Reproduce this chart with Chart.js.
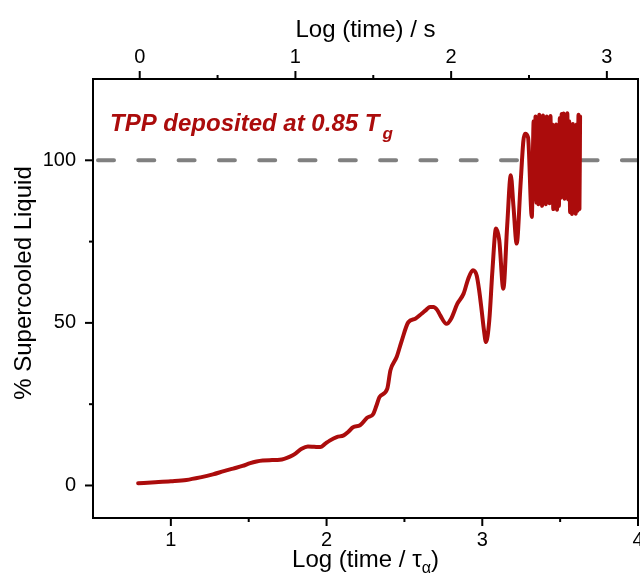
<!DOCTYPE html>
<html>
<head>
<meta charset="utf-8">
<script src="https://cdn.jsdelivr.net/npm/chart.js@4.4.0/dist/chart.umd.min.js"></script>
<style>
  html, body { margin: 0; padding: 0; background: #fff; }
  canvas { display: block; }
</style>
</head>
<body>
<canvas id="chart" width="640" height="588"></canvas>
<script>
// Log (time / tau_alpha) for each point of the trace
const logTimeTau = [
    0.79, 0.90, 1.00, 1.10, 1.19, 1.27, 1.34, 1.40, 1.46, 1.51,
    1.55, 1.59, 1.65, 1.70, 1.765, 1.80, 1.84, 1.88, 1.92, 1.96,
    1.99, 2.02, 2.065, 2.11, 2.14, 2.17, 2.215, 2.26, 2.30, 2.32,
    2.34, 2.39, 2.41, 2.45, 2.48, 2.525, 2.57, 2.61, 2.64, 2.664,
    2.686, 2.71, 2.73, 2.77, 2.80, 2.84, 2.88, 2.91, 2.94, 2.964,
    2.98, 2.996, 3.01, 3.024, 3.045, 3.065, 3.088, 3.109, 3.135, 3.16,
    3.183, 3.20, 3.221, 3.245, 3.264, 3.275, 3.294, 3.318,
    // noisy end of the trace
    3.330, 3.336, 3.342, 3.348, 3.354, 3.360, 3.366, 3.372, 3.378, 3.384,
    3.390, 3.396, 3.402, 3.408, 3.414, 3.420, 3.426, 3.432, 3.438, 3.444,
    3.450, 3.456, 3.462, 3.468, 3.474, 3.480, 3.486, 3.492, 3.498, 3.504,
    3.510, 3.516, 3.522, 3.528, 3.534, 3.540, 3.546, 3.552, 3.558, 3.564,
    3.570, 3.576, 3.582, 3.588, 3.594, 3.600, 3.606, 3.612, 3.618, 3.624,
    3.628
];
// % supercooled liquid
const supercooled = [
    0.7, 1.0, 1.3, 1.7, 2.5, 3.4, 4.4, 5.2, 6.0, 6.9,
    7.4, 7.7, 7.8, 7.9, 8.9, 9.8, 11.3, 12.0, 11.9, 11.8,
    12.8, 13.8, 14.9, 15.4, 16.5, 17.9, 18.5, 20.8, 22.0, 24.5,
    27.2, 29.8, 35.4, 39.5, 44.1, 50.2, 51.3, 52.8, 54.0, 54.9,
    54.9, 54.0, 52.3, 49.7, 51.3, 55.9, 59.0, 63.6, 66.2, 64.6,
    60.0, 53.8, 48.0, 44.1, 50.8, 66.0, 79.0, 75.4, 60.5, 80.0,
    95.4, 86.0, 74.4, 92.0, 106.0, 108.2, 107.0, 82.6,
    112, 88, 113.5, 87, 113, 86.5, 114, 87.5, 113, 86,
    113.8, 87, 112.5, 86.5, 113.5, 88, 113, 86.8, 113.6, 87.5,
    111, 85, 110.5, 85.5, 111, 84.8, 110.8, 86, 113, 88.5,
    114.2, 89, 114.4, 88.2, 114, 89, 114.5, 88, 112, 84,
    111, 83.5, 111.2, 84, 110.5, 83.6, 111, 84.5, 114, 85,
    113.5
];

// 100 % reference line
const refLineX = [0.5, 4];
const refLineY = [100, 100];

const bottomTicks = [1, 2, 3, 4];
const bottomMinor = [1.5, 2.5, 3.5];
const topTicks = [0, 1, 2, 3];
const topMinor = [0.5, 1.5, 2.5];
const yTicks = [0, 50, 100];
const yMinor = [25, 75];

// Log(time / s) = Log(time / tau) - tauOffset
const tauOffset = 0.8;

const FONT = '"Liberation Sans", Arial, sans-serif';
const RED = '#ab0c0c';

function setTicks(values) {
    return scale => { scale.ticks = values.map(v => ({ value: v })); };
}

// frame, tick marks, axis titles and the label
const decorPlugin = {
    id: 'decor',
    afterDraw(chart) {
        const { ctx, chartArea: a, scales } = chart;
        ctx.save();
        ctx.strokeStyle = '#000';
        ctx.lineWidth = 2;
        ctx.strokeRect(a.left, a.top, a.right - a.left, a.bottom - a.top);

        const tick = (vals, scale, len, side) => {
            vals.forEach(v => {
                const p = scale.getPixelForValue(v);
                ctx.beginPath();
                if (side === 'bottom') { ctx.moveTo(p, a.bottom); ctx.lineTo(p, a.bottom + len); }
                if (side === 'top') { ctx.moveTo(p, a.top); ctx.lineTo(p, a.top - len); }
                if (side === 'left') { ctx.moveTo(a.left, p); ctx.lineTo(a.left - len, p); }
                ctx.stroke();
            });
        };
        tick(bottomTicks, scales.x, 8, 'bottom');
        tick(bottomMinor, scales.x, 4, 'bottom');
        tick(topTicks, scales.x2, 8, 'top');
        tick(topMinor, scales.x2, 4, 'top');
        tick(yTicks, scales.y, 8, 'left');
        tick(yMinor, scales.y, 4, 'left');

        const cx = (a.left + a.right) / 2;
        ctx.fillStyle = '#000';
        ctx.textBaseline = 'alphabetic';

        // top title
        ctx.font = '24px ' + FONT;
        ctx.textAlign = 'center';
        ctx.fillText('Log (time) / s', cx, 37);

        // bottom title with subscript alpha
        ctx.textAlign = 'left';
        const p1 = 'Log (time / \u03C4', p2 = '\u03B1', p3 = ')';
        ctx.font = '24px ' + FONT;
        const w1 = ctx.measureText(p1).width, w3 = ctx.measureText(p3).width;
        ctx.font = '16px ' + FONT;
        const w2 = ctx.measureText(p2).width;
        let x0 = cx - (w1 + w2 + w3) / 2;
        ctx.font = '24px ' + FONT;
        ctx.fillText(p1, x0, 567);
        ctx.font = '16px ' + FONT;
        ctx.fillText(p2, x0 + w1, 573);
        ctx.font = '24px ' + FONT;
        ctx.fillText(p3, x0 + w1 + w2, 567);

        // y title
        ctx.save();
        ctx.translate(31, 283);
        ctx.rotate(-Math.PI / 2);
        ctx.textAlign = 'center';
        ctx.font = '24px ' + FONT;
        ctx.fillText('% Supercooled Liquid', 0, 0);
        ctx.restore();

        // label
        ctx.fillStyle = RED;
        ctx.textAlign = 'left';
        ctx.font = 'italic bold 24px ' + FONT;
        const label = 'TPP deposited at 0.85 T';
        ctx.fillText(label, 110, 131);
        const lw = ctx.measureText(label).width;
        ctx.font = 'italic bold 17px ' + FONT;
        ctx.fillText('g', 110 + lw + 3, 139);
        ctx.restore();
    }
};

const tickFont = { family: FONT, size: 20 };
const hiddenGrid = { display: true, drawOnChartArea: false, drawTicks: true, tickLength: 8, tickColor: 'rgba(0,0,0,0)' };

new Chart(document.getElementById('chart'), {
    type: 'scatter',
    data: {
        datasets: [
            {
                data: logTimeTau.map((x, i) => ({ x, y: supercooled[i] })),
                showLine: true,
                borderColor: RED,
                borderWidth: 4,
                pointRadius: 0,
                cubicInterpolationMode: 'monotone',
                borderJoinStyle: 'round',
                borderCapStyle: 'round'
            },
            {
                data: refLineX.map((x, i) => ({ x, y: refLineY[i] })),
                showLine: true,
                borderColor: '#808080',
                borderWidth: 4,
                borderDash: [16, 24.3],
                borderDashOffset: -5,
                borderCapStyle: 'round',
                pointRadius: 0
            }
        ]
    },
    options: {
        responsive: false,
        animation: false,
        events: [],
        layout: { padding: { left: 0, right: 2, top: 0, bottom: 0 } },
        plugins: { legend: { display: false }, tooltip: { enabled: false } },
        scales: {
            x: {
                type: 'linear',
                position: 'bottom',
                min: 0.5,
                max: 4,
                grid: hiddenGrid,
                border: { display: false },
                afterBuildTicks: setTicks(bottomTicks),
                ticks: { font: tickFont, color: '#000', padding: 2, maxRotation: 0 },
                afterFit(scale) { scale.height = 70; scale.paddingLeft = 0; scale.paddingRight = 0; }
            },
            x2: {
                type: 'linear',
                position: 'top',
                min: 0.5 - tauOffset,
                max: 4 - tauOffset,
                grid: hiddenGrid,
                border: { display: false },
                afterBuildTicks: setTicks(topTicks),
                ticks: { font: tickFont, color: '#000', padding: 2, maxRotation: 0 },
                afterFit(scale) { scale.height = 79; scale.paddingLeft = 0; scale.paddingRight = 0; }
            },
            y: {
                type: 'linear',
                min: -10,
                max: 125,
                grid: hiddenGrid,
                border: { display: false },
                afterBuildTicks: setTicks(yTicks),
                ticks: { font: tickFont, color: '#000', padding: 9 },
                afterFit(scale) { scale.width = 93; scale.paddingTop = 0; scale.paddingBottom = 0; }
            }
        }
    },
    plugins: [decorPlugin]
});
</script>
</body>
</html>
